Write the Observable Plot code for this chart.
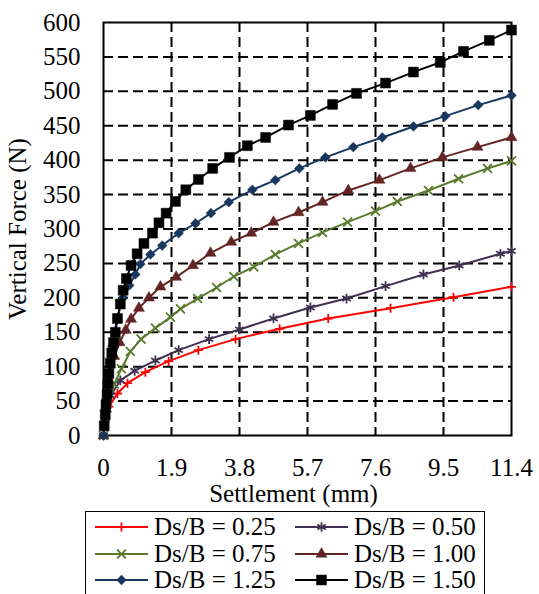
<!DOCTYPE html>
<html>
<head>
<meta charset="utf-8">
<script src="https://cdn.jsdelivr.net/npm/d3@7"></script>
<script src="https://cdn.jsdelivr.net/npm/@observablehq/plot@0.6"></script>
<style>
  body { margin: 0; background: #fff; overflow: hidden; font-family: "Liberation Serif", "Times New Roman", serif; }
  #wrap { position: relative; width: 539px; height: 594px; overflow: hidden; }
  #legend { position: absolute; left: 85px; top: 511px; width: 400px; height: 100px; border: 1.5px solid #000; box-sizing: border-box; background: #fff; }
  .item { position: absolute; display: flex; align-items: center; height: 27px; font-size: 25px; white-space: nowrap; color: #000; }
  .item svg { margin-right: 6px; }
</style>
</head>
<body>
<div id="wrap">
  <div id="chart"></div>
  <div id="legend"></div>
</div>
<script>
// Settlement (mm) vs vertical force (N) for each embedment ratio Ds/B
const ds025 = [[0,0],[0.05,22],[0.15,42],[0.39,61],[0.67,76],[1.17,92],[1.82,108],[2.65,124],[3.69,140],[4.92,155],[6.28,170],[8.02,185],[9.78,201],[11.4,216]];
const ds050 = [[0,0],[0.06,28],[0.2,58],[0.47,80],[0.87,94],[1.45,109],[2.1,124],[2.95,140],[3.8,154],[4.75,170],[5.78,186],[6.79,199],[7.88,217],[8.94,234],[9.94,247],[11.09,264],[11.4,268]];
const ds075 = [[0,0],[0.1,40],[0.3,75],[0.5,97],[0.75,122],[1.05,140],[1.45,156],[1.87,172],[2.15,184],[2.63,199],[3.16,215],[3.64,231],[4.2,245],[4.8,263],[5.45,279],[6.12,295],[6.82,310],[7.6,326],[8.21,340],[9.08,356],[9.92,373],[10.73,388],[11.4,399]];
const ds100 = [[0,0],[0.05,40],[0.15,80],[0.3,115],[0.45,135],[0.62,153],[0.77,169],[0.99,185],[1.27,200],[1.59,216],[2.03,230],[2.5,247],[2.99,265],[3.57,281],[4.13,294],[4.75,310],[5.45,324],[6.12,339],[6.84,356],[7.71,371],[8.58,388],[9.47,404],[10.45,419],[11.4,433]];
const ds125 = [[0,0],[0.03,20],[0.08,50],[0.15,90],[0.25,130],[0.38,170],[0.55,200],[0.72,218],[0.89,234],[1.03,249],[1.31,263],[1.64,276],[2.1,294],[2.57,308],[3.0,323],[3.5,339],[4.16,357],[4.8,371],[5.47,388],[6.2,404],[6.98,419],[7.79,433],[8.66,449],[9.55,464],[10.47,480],[11.4,494]];
const ds150 = [[0.02,14],[0.05,30],[0.07,45],[0.1,60],[0.12,75],[0.15,90],[0.19,105],[0.23,120],[0.28,135],[0.33,150],[0.39,170],[0.47,191],[0.55,211],[0.64,228],[0.77,247],[0.94,264],[1.13,279],[1.37,294],[1.55,309],[1.75,323],[2.01,340],[2.3,357],[2.65,372],[3.05,388],[3.52,404],[4.02,421],[4.53,433],[5.17,451],[5.78,465],[6.4,481],[7.07,497],[7.88,512],[8.66,528],[9.41,542],[10.06,558],[10.78,574],[11.4,589]];

const seriesLabels = ["Ds/B = 0.25", "Ds/B = 0.50", "Ds/B = 0.75", "Ds/B = 1.00", "Ds/B = 1.25", "Ds/B = 1.50"];
const seriesColors = ["#ff0000", "#403152", "#5a7a2e", "#632523", "#17375e", "#000000"];
const xTicks = [0, 1.9, 3.8, 5.7, 7.6, 9.5, 11.4];
const yTicks = [0, 50, 100, 150, 200, 250, 300, 350, 400, 450, 500, 550, 600];
const xTitle = "Settlement (mm)";
const yTitle = "Vertical Force (N)";

const seriesData = [ds025, ds050, ds075, ds100, ds125, ds150];
// marker shape, radius for Plot (area = PI r^2), and whether filled
const markers = [
  {symbol: d3.symbolPlus, r: 3.0, filled: false},
  {symbol: d3.symbolAsterisk, r: 4.6, filled: false},
  {symbol: d3.symbolTimes, r: 4.1, filled: false},
  {symbol: d3.symbolTriangle, r: 4.1, filled: true},
  {symbol: d3.symbolDiamond2, r: 4.4, filled: true},
  {symbol: d3.symbolSquare, r: 5.6, filled: true}
];

const serif = "Liberation Serif";

const seriesMarks = seriesData.flatMap((data, i) => {
  const rows = data.map(([s, f]) => ({s, f}));
  const m = markers[i];
  const c = seriesColors[i];
  return [
    Plot.line(rows, {x: "s", y: "f", stroke: c, strokeWidth: 2}),
    Plot.dot(rows, {
      x: "s", y: "f", symbol: m.symbol, r: m.r,
      fill: m.filled ? c : "none",
      stroke: c,
      strokeWidth: m.filled ? 0.5 : 1.8
    })
  ];
});

const chart = Plot.plot({
  width: 539,
  height: 508,
  marginLeft: 103,
  marginRight: 28,
  marginTop: 22,
  marginBottom: 73,
  style: {fontFamily: serif, fontSize: "25px", color: "#000", background: "#fff", overflow: "visible"},
  x: {domain: [0, 11.4]},
  y: {domain: [0, 600]},
  marks: [
    Plot.gridX(xTicks.slice(1, -1), {stroke: "#000", strokeOpacity: 1, strokeWidth: 2, strokeDasharray: "10,5"}),
    Plot.gridY(yTicks.slice(1, -1), {stroke: "#000", strokeOpacity: 1, strokeWidth: 2, strokeDasharray: "10,5"}),
    Plot.frame({stroke: "#000", strokeWidth: 2}),
    Plot.axisX(xTicks, {
      tickSize: 0, tickPadding: 23, tickFormat: d => String(d), fontSize: 25, fontFamily: serif, label: null
    }),
    Plot.axisY(yTicks, {
      tickSize: 0, tickPadding: 23, fontSize: 25, fontFamily: serif,
      label: yTitle, labelAnchor: "center", labelArrow: "none", labelOffset: 95
    }),
    // x-axis title, centred a little left of the frame centre
    Plot.text([xTitle], {frameAnchor: "bottom", lineAnchor: "middle", text: d => d, dx: -14, dy: 58, fontSize: 25, fontFamily: serif, fill: "#000"}),
    ...seriesMarks
  ]
});
// proportional digits for all chart text
chart.querySelectorAll("g, text").forEach(el => {
  el.removeAttribute("font-variant");
  el.style.fontVariant = "normal";
});
document.getElementById("chart").appendChild(chart);

// Legend: two columns, three rows, line + marker swatch for each series
const legend = document.getElementById("legend");
seriesLabels.forEach((label, i) => {
  const col = i % 2, row = Math.floor(i / 2);
  const item = document.createElement("div");
  item.className = "item";
  item.style.left = (col === 0 ? 9 : 209) + "px";
  item.style.top = (1.5 + row * 26.7) + "px";
  const m = markers[i];
  const c = seriesColors[i];
  const path = d3.symbol(m.symbol, Math.PI * m.r * m.r)();
  item.innerHTML =
    `<svg width="53" height="20" viewBox="0 0 53 20">` +
    `<line x1="0" y1="10" x2="53" y2="10" stroke="${c}" stroke-width="2"/>` +
    `<path transform="translate(26.5,10)" d="${path}" fill="${m.filled ? c : "none"}" stroke="${c}" stroke-width="${m.filled ? 0.5 : 1.8}"/>` +
    `</svg><span>${label}</span>`;
  legend.appendChild(item);
});
</script>
</body>
</html>
